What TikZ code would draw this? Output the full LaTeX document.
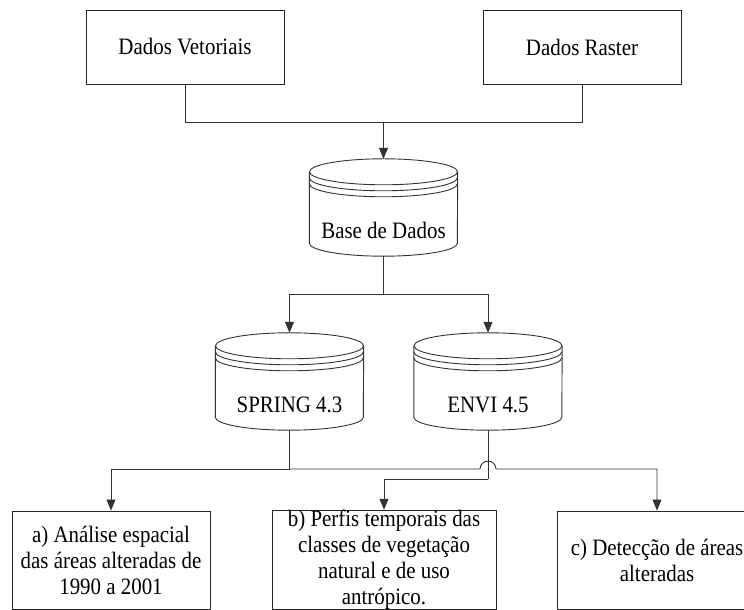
\documentclass[tikz,border=0pt]{standalone}
\usepackage{fontspec}
\setmainfont{Liberation Serif}[FakeStretch=0.89]
\usetikzlibrary{arrows.meta}
\tikzset{
  box/.style={draw=black!85, line width=0.9pt, minimum width=198pt, minimum height=74pt, align=center, inner sep=0pt},
  db/.style={minimum width=148pt, minimum height=97pt, inner sep=0pt, text height=66pt, text depth=4pt},
  wire/.style={draw=black!80, line width=0.9pt},
  arr/.style={wire, -{Triangle[length=11pt,width=9pt]}}
}
\begin{document}
\begin{tikzpicture}[x=1pt, y=1pt, font=\fontsize{23.5pt}{26pt}\selectfont]
  \useasboundingbox (0,0) rectangle (744,610);

  \node[box] (vet) at (185,563) {Dados Vetoriais};
  \node[box] (ras) at (582,563) {Dados Raster};
  \coordinate (join) at (383.5,488);

  \node[db] (base) at (383.5,402.5) {Base de Dados};
  \node[db] (spring) at (289.5,228.5) {SPRING 4.3};
  \node[db] (envi) at (488,228.5) {ENVI 4.5};

  % cylinders with two rings under the lid
  \foreach \n in {base,spring,envi}{
    \draw[wire] ([yshift=-13pt]\n.north) ellipse[x radius=74pt, y radius=13pt];
    \draw[wire] ([yshift=-19pt]\n.north west) arc[start angle=180, end angle=360, x radius=74pt, y radius=13pt];
    \draw[wire] ([yshift=-25pt]\n.north west) arc[start angle=180, end angle=360, x radius=74pt, y radius=13pt];
    \draw[wire] ([yshift=-13pt]\n.north west) -- ([yshift=13pt]\n.south west)
      arc[start angle=180, end angle=360, x radius=74pt, y radius=13pt] -- ([yshift=-13pt]\n.north east);
  }

  \node[box, minimum height=98pt] (ana) at (111,50) {a) Análise espacial\\das áreas alteradas de\\1990 a 2001};
  \node[box, minimum width=224pt, minimum height=98pt] (perf) at (384,50) {b) Perfis temporais das\\classes de vegetação\\natural e de uso\\antrópico.};
  \node[box, minimum width=200pt, minimum height=98pt] (detec) at (657,50) {c) Detecção de áreas\\alteradas};

  \coordinate (fork) at (383.5,316);
  \coordinate (bus) at (289.5,141);
  \coordinate (hop) at (480,141);
  \coordinate (elbow) at (488,131);

  \draw[wire] (vet.south) |- (join);
  \draw[wire] (ras.south) |- (join);
  \draw[arr] (join) -- (base.north);

  \draw[wire] (base.south) -- (fork);
  \draw[arr] (fork) -| (spring.north);
  \draw[arr] (fork) -| (envi.north);

  \draw[wire] (spring.south) -- (bus);
  \draw[arr] (bus) -| (ana.north);
  \draw[arr] (bus) -- (hop) arc[start angle=180, end angle=0, radius=8pt] -| (detec.north);

  \draw[wire] (envi.south) -- (elbow);
  \draw[arr] (elbow) -| (perf.north);
\end{tikzpicture}
\end{document}
